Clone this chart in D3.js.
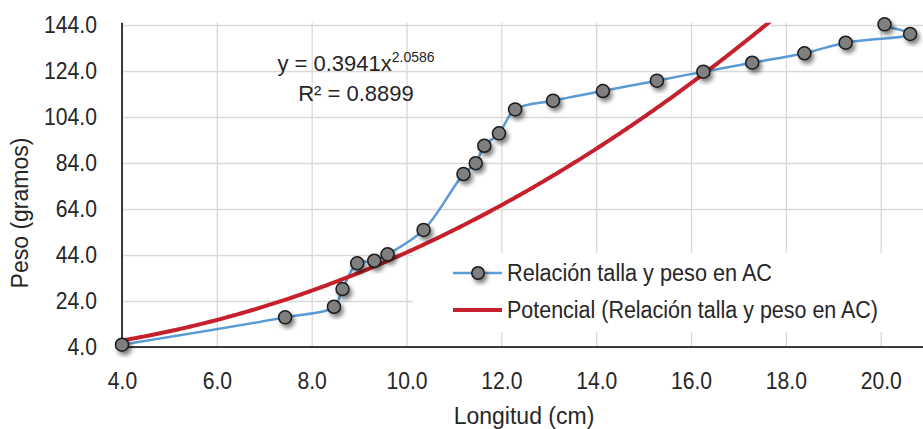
<!DOCTYPE html>
<html>
<head>
<meta charset="utf-8">
<script src="https://cdn.jsdelivr.net/npm/d3@7"></script>
<style>
  body { margin: 0; background: #fff; }
  text { font-family: "Liberation Sans Narrow", "Arial Narrow", "Liberation Sans", sans-serif; fill: #262626; }
</style>
</head>
<body>
<div id="viz-container"></div>
<script>
// longitud (cm) and peso (g), in series order
let longitud = [4.0, 7.44, 8.47, 8.65, 8.96, 9.32, 9.6, 10.36, 11.2, 11.46, 11.64, 11.95, 12.29, 13.09, 14.14, 15.28, 16.26, 17.29, 18.39, 19.26, 20.62, 20.08, 21.9];
let peso     = [5.0, 16.9, 21.5, 29.2, 40.4, 41.5, 44.3, 54.9, 79.2, 83.9, 91.5, 96.9, 107.3, 111.1, 115.3, 119.8, 123.7, 127.6, 131.7, 136.3, 140.1, 144.3, 149.8];

let xTicks = [4, 6, 8, 10, 12, 14, 16, 18, 20];
let yTicks = [4, 24, 44, 64, 84, 104, 124, 144];

// trendline shown on the chart: y = 0.3941 x^2.0586
let coefA = 0.3941;
let coefB = 2.0586;
let r2 = "0.8899";

let serieName = "Relación talla y peso en AC";
let trendName = "Potencial (Relación talla y peso en AC)";

let W = 923, H = 429;
let plotLeft = 122, plotTop = 22.7, plotBottom = 347;
let squeeze = 0.92; // no narrow font installed, so squeeze labels a bit

let viz = d3.select("#viz-container")
  .append("svg")
    .attr("width", W)
    .attr("height", H);

let x = d3.scaleLinear().domain([4, 21]).range([plotLeft, plotLeft + 17 * 47.42]);
let y = d3.scaleLinear().domain([4, 145]).range([plotBottom, plotTop]);

let defs = viz.append("defs");
defs.append("clipPath").attr("id", "plot")
  .append("rect").attr("x", plotLeft).attr("y", plotTop).attr("width", W - plotLeft).attr("height", plotBottom - plotTop);
let f = defs.append("filter").attr("id", "shadow").attr("x", "-50%").attr("y", "-50%").attr("width", "200%").attr("height", "200%");
f.append("feDropShadow").attr("dx", 2.5).attr("dy", 3.5).attr("stdDeviation", 2.2).attr("flood-color", "#000").attr("flood-opacity", 0.5);

// gridlines
viz.append("g")
  .attr("transform", "translate(0," + plotBottom + ")")
  .call(d3.axisBottom(x).tickValues(xTicks.concat([22])).tickSize(-(plotBottom - plotTop)).tickFormat(""))
  .call(g => g.select(".domain").remove())
  .call(g => g.selectAll("line").attr("stroke", "#d9d9d9").attr("stroke-width", 1.3));

viz.append("g")
  .attr("transform", "translate(" + plotLeft + ",0)")
  .call(d3.axisLeft(y).tickValues(yTicks).tickSize(-(W - plotLeft)).tickFormat(""))
  .call(g => g.select(".domain").remove())
  .call(g => g.selectAll("line").attr("stroke", "#d9d9d9").attr("stroke-width", 1.3));

// tick labels
let xAxis = viz.append("g")
  .attr("transform", "translate(0," + plotBottom + ")")
  .call(d3.axisBottom(x).tickValues(xTicks).tickSize(0).tickPadding(26).tickFormat(d3.format(".1f")));
xAxis.select(".domain").remove();
xAxis.attr("font-family", null).attr("font-size", null);
xAxis.selectAll("text").attr("font-size", 23).attr("fill", null)
  .attr("transform", "scale(" + squeeze + ",1)");

let yAxis = viz.append("g")
  .attr("transform", "translate(" + plotLeft + ",0)")
  .call(d3.axisLeft(y).tickValues(yTicks).tickSize(0).tickPadding(25).tickFormat(d3.format(".1f")));
yAxis.select(".domain").remove();
yAxis.attr("font-family", null).attr("font-size", null);
yAxis.selectAll("text").attr("font-size", 23).attr("fill", null)
  .attr("x", -25 / squeeze)
  .attr("transform", "scale(" + squeeze + ",1)");

// axis lines
viz.append("line").attr("x1", plotLeft).attr("x2", plotLeft).attr("y1", plotTop).attr("y2", plotBottom)
  .attr("stroke", "#000").attr("stroke-width", 1.5);
viz.append("line").attr("x1", plotLeft).attr("x2", W).attr("y1", plotBottom).attr("y2", plotBottom)
  .attr("stroke", "#000").attr("stroke-width", 1.5);

let plot = viz.append("g").attr("clip-path", "url(#plot)");

// series
let pts = longitud.map((d, i) => [d, peso[i]]);
let line = d3.line().x(d => x(d[0])).y(d => y(d[1])).curve(d3.curveCatmullRom.alpha(0.5));

plot.append("path").datum(pts)
  .attr("d", line)
  .attr("fill", "none")
  .attr("stroke", "#5b9bd5")
  .attr("stroke-width", 2.5);

// trendline over the data range
let xMax = d3.max(longitud);
let trendPts = d3.range(4, xMax + 0.001, 0.05).map(v => [v, coefA * Math.pow(v, coefB)]);
plot.append("path").datum(trendPts)
  .attr("d", d3.line().x(d => x(d[0])).y(d => y(d[1])))
  .attr("fill", "none")
  .attr("stroke", "#c5202b")
  .attr("stroke-width", 4);

viz.selectAll("circle.pt").data(pts.filter(d => d[0] <= 21)).enter().append("circle")
  .attr("class", "pt")
  .attr("cx", d => x(d[0]))
  .attr("cy", d => y(d[1]))
  .attr("r", 6.5)
  .attr("fill", "#7f7f7f")
  .attr("stroke", "#1a1a1a")
  .attr("stroke-width", 1.5)
  .attr("filter", "url(#shadow)");

// equation
let eq = viz.append("text").attr("x", 356).attr("y", 71).attr("text-anchor", "middle").attr("font-size", 22);
eq.append("tspan").text("y = " + coefA + "x");
eq.append("tspan").attr("dy", -9).attr("font-size", 14).text(coefB);
viz.append("text").attr("x", 356).attr("y", 101).attr("text-anchor", "middle").attr("font-size", 22)
  .text("R² = " + r2);

// legend
let lg = viz.append("g");
lg.append("rect").attr("x", 413).attr("y", 253).attr("width", W - 413).attr("height", 79).attr("fill", "#fff");
lg.append("line").attr("x1", 453).attr("x2", 502).attr("y1", 273).attr("y2", 273)
  .attr("stroke", "#5b9bd5").attr("stroke-width", 2.5);
lg.append("circle").attr("cx", 478).attr("cy", 273).attr("r", 6.2)
  .attr("fill", "#7f7f7f").attr("stroke", "#1a1a1a").attr("stroke-width", 1.5).attr("filter", "url(#shadow)");
lg.append("text").attr("x", 507).attr("y", 281).attr("font-size", 23)
  .attr("textLength", 265).attr("lengthAdjust", "spacingAndGlyphs").text(serieName);
lg.append("line").attr("x1", 453).attr("x2", 502).attr("y1", 310).attr("y2", 310)
  .attr("stroke", "#c5202b").attr("stroke-width", 4);
lg.append("text").attr("x", 507).attr("y", 318).attr("font-size", 23)
  .attr("textLength", 371).attr("lengthAdjust", "spacingAndGlyphs").text(trendName);

// axis titles
viz.append("text").attr("x", 524).attr("y", 424).attr("text-anchor", "middle").attr("font-size", 23)
  .text("Longitud (cm)");
viz.append("text").attr("transform", "translate(28,213) rotate(-90)").attr("text-anchor", "middle").attr("font-size", 23)
  .text("Peso (gramos)");
</script>
</body>
</html>
